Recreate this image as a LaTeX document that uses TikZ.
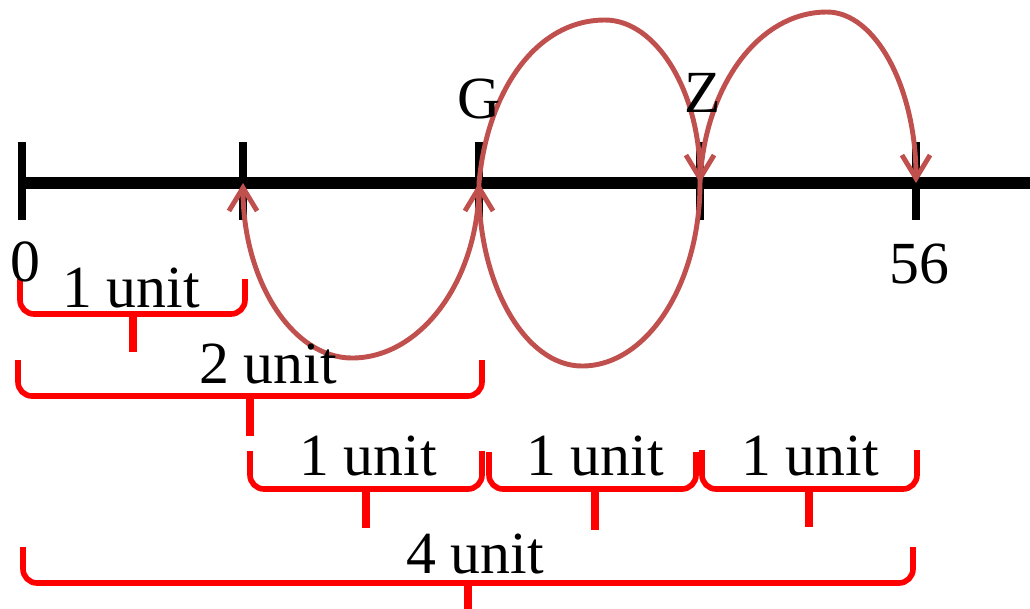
\documentclass[tikz,border=0pt]{standalone}
\usepackage{fontspec}
\setmainfont{Liberation Serif}
\usetikzlibrary{arrows.meta}
\definecolor{jumpred}{RGB}{192,80,77}
\definecolor{bracered}{RGB}{255,0,0}

\begin{document}
\begin{tikzpicture}[
  x=0.01cm, y=-0.01cm,
  lbl/.style={font=\fontsize{17}{20}\selectfont, inner sep=0pt, anchor=base},
  numline/.style={draw=black, line width=3.4pt},
  tickmark/.style={draw=black, line width=2pt},
  jump/.style={draw=jumpred, line width=1.4pt,
               -{Straight Barb[length=6.6pt, width=8pt, line width=1.4pt]}},
  brc/.style={draw=bracered, line width=1.6pt, rounded corners=4pt},
  brctip/.style={draw=bracered, line width=2pt},
]
\path[use as bounding box] (0,0) rectangle (1030,608);

\coordinate (p0) at (22,183);
\coordinate (p1) at (243,183);
\coordinate (pG) at (479,183);
\coordinate (pZ) at (700,183);
\coordinate (p56) at (916,183);
\coordinate (topB) at (605,20);
\coordinate (topD) at (827,12);
\coordinate (botA) at (352,358);
\coordinate (botC) at (582,366);

\draw[numline] (20,183) -- (1030,183);
\foreach \p in {p0,p1,pG,pZ,p56}
  \draw[tickmark] (\p) ++(0,-41) -- ++(0,78);

\foreach \a/\b/\m/\t/\y/\e in {20/245/133/279/314/352, 18/482/250/360/396/436,
    250/482/366/451/489/528, 489/696/595/452/489/530, 702/917/809/450/489/527,
    23/913/468/547/583/612}{
  \draw[brc] (\a,\t) -- (\a,\y) -- (\b,\y) -- (\b,\t);
  \draw[brctip] (\m,\y) -- (\m,\e);
}

\draw[jump] (pG) .. controls +(0,97) and +(69,0) .. (botA)
  .. controls +(-60,0) and +(0,97) .. (p1);
\draw[jump] (pG) .. controls +(8,-90) and +(-70,0) .. (topB)
  .. controls +(52,0) and +(0,-90) .. (pZ);
\draw[jump] (pZ) .. controls +(0,101) and +(65,0) .. (botC)
  .. controls +(-57,0) and +(0,101) .. (pG);
\draw[jump] (pZ) .. controls +(4,-94) and +(-70,0) .. (topD)
  .. controls +(49,0) and +(0,-94) .. (p56);

\node[lbl] (l0) at (25,281) {0};
\node[lbl] (lG) at (479,118) {G};
\node[lbl] (lZ) at (703,112) {Z};
\node[lbl] (l56) at (919,283) {56};
\node[lbl] (u1) at (131,307) {1 unit};
\node[lbl] (u2) at (268,383) {2 unit};
\node[lbl] (u3) at (368,475) {1 unit};
\node[lbl] (u4) at (595,475) {1 unit};
\node[lbl] (u5) at (810,475) {1 unit};
\node[lbl] (u6) at (475,573) {4 unit};
\end{tikzpicture}
\end{document}
